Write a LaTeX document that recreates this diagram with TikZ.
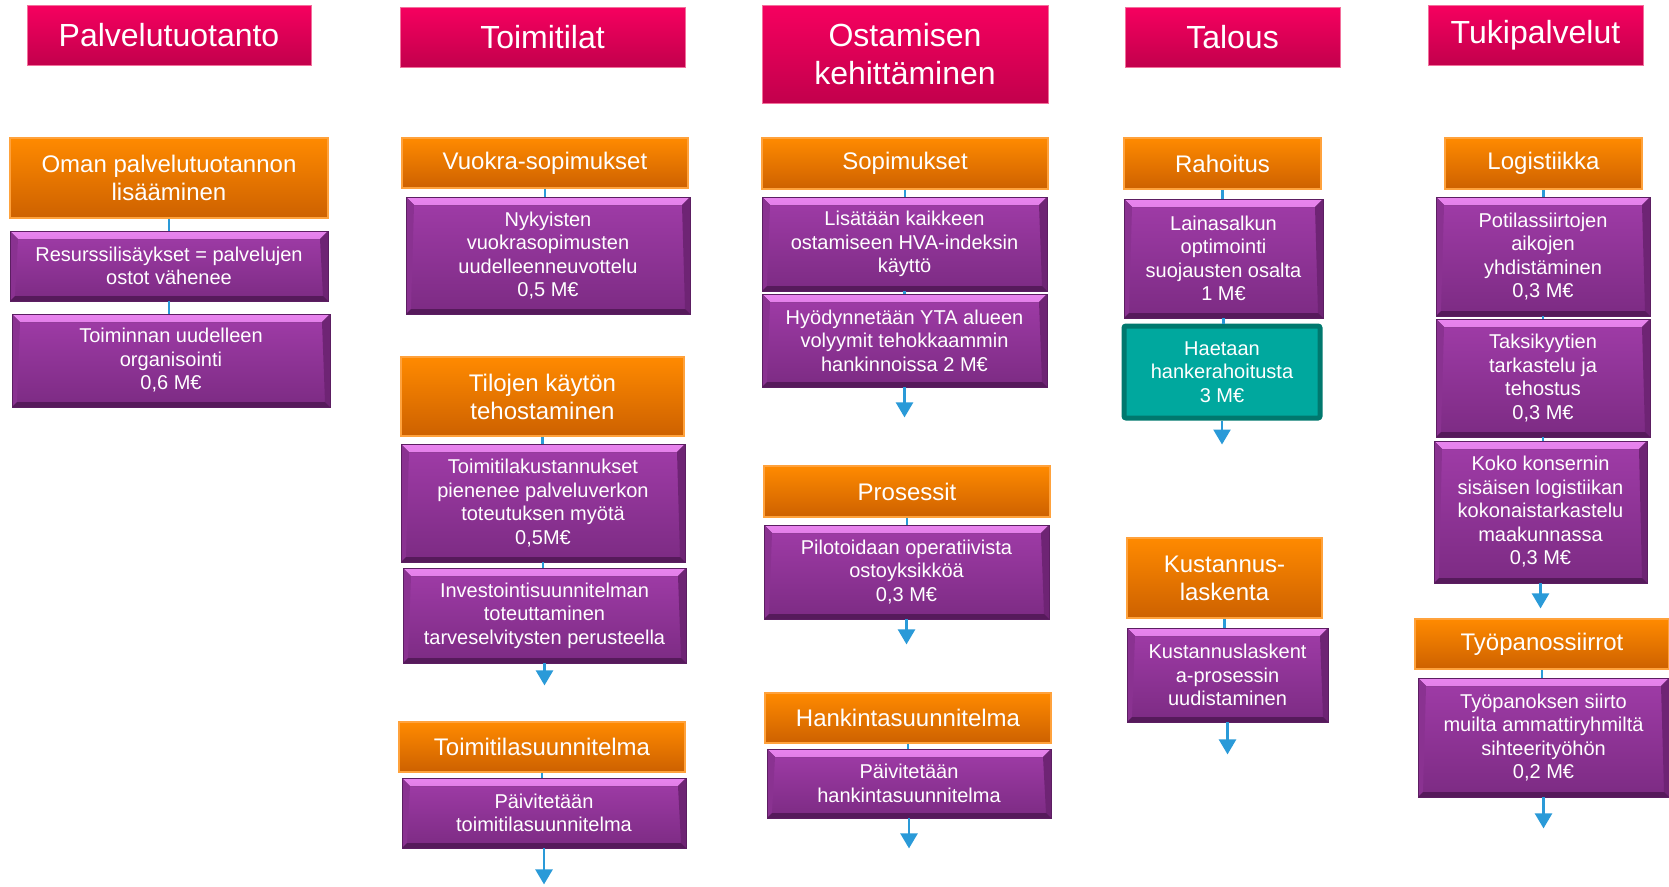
\documentclass[tikz,border=0pt]{standalone}
\usepackage{fontspec}
\setmainfont{Liberation Sans}
\usetikzlibrary{arrows.meta}
\definecolor{tTop}{HTML}{F6005F}
\definecolor{tBot}{HTML}{C2004C}
\definecolor{tEdge}{HTML}{F2709C}
\definecolor{oTop}{HTML}{FF8A00}
\definecolor{oBot}{HTML}{CD6100}
\definecolor{oEdge}{HTML}{FFA23C}
\definecolor{pTop}{HTML}{A03CA8}
\definecolor{pBot}{HTML}{7C2B83}
\definecolor{pEdge}{HTML}{5C1E62}
\definecolor{pHiA}{HTML}{E884EE}
\definecolor{pHiB}{HTML}{B24ABA}
\definecolor{pDark}{HTML}{561A5B}
\definecolor{pSide}{HTML}{6E2474}
\definecolor{pLeft}{HTML}{8A3291}
\definecolor{tealF}{HTML}{00A89E}
\definecolor{tealD}{HTML}{00786E}
\definecolor{conn}{HTML}{2A9AD8}
\tikzset{
  titlebox/.style={top color=tTop, bottom color=tBot, draw=tEdge, line width=1pt,
    text=white, font=\fontsize{32}{38}\selectfont, align=center, inner sep=0pt},
  orangebox/.style={top color=oTop, bottom color=oBot, draw=oEdge, line width=1.5pt,
    text=white, font=\fontsize{24}{28}\selectfont, align=center, inner sep=0pt},
  purplebox/.style={top color=pTop, bottom color=pBot, draw=pEdge, line width=0.8pt,
    text=white, font=\fontsize{20}{23.5}\selectfont, align=center, inner sep=0pt,
    path picture={
      \fill[top color=pHiA, bottom color=pHiB]
        (path picture bounding box.north west) -- (path picture bounding box.north east)
        -- ([xshift=-8pt,yshift=-8pt]path picture bounding box.north east)
        -- ([xshift=8pt,yshift=-8pt]path picture bounding box.north west) -- cycle;
      \fill[pSide]
        (path picture bounding box.north east) -- ([xshift=-8pt,yshift=-8pt]path picture bounding box.north east)
        -- ([xshift=-5pt,yshift=5pt]path picture bounding box.south east) -- (path picture bounding box.south east) -- cycle;
      \fill[pLeft]
        (path picture bounding box.north west) -- ([xshift=8pt,yshift=-8pt]path picture bounding box.north west)
        -- ([xshift=5pt,yshift=5pt]path picture bounding box.south west) -- (path picture bounding box.south west) -- cycle;
      \fill[pDark]
        (path picture bounding box.south west) -- (path picture bounding box.south east)
        -- ([xshift=-5pt,yshift=5pt]path picture bounding box.south east)
        -- ([xshift=5pt,yshift=5pt]path picture bounding box.south west) -- cycle;
    }},
  tealbox/.style={fill=tealF, draw=tealD, line width=5pt, rounded corners=2pt,
    text=white, font=\fontsize{20}{23.5}\selectfont, align=center, inner sep=0pt},
  link/.style={draw=conn, line width=2.5pt},
  arrowlink/.style={draw=conn, line width=2.5pt, -{Triangle[width=17pt,length=15pt]}},
}
\newcommand\bx[7]{%
  \pgfmathsetmacro\myW{#5-#3}\pgfmathsetmacro\myH{#6-#4}%
  \node[#1, minimum width=\myW pt, minimum height=\myH pt] (#2) at ({(#3+#5)/2},{(#4+#6)/2}) {#7};}
\newcommand\lk[2]{\draw[link] (#1.south) -- (#1.south |- #2.north);}
\newcommand\ar[3]{\coordinate (#2) at ([yshift=-#3pt]#1.south); \draw[arrowlink] (#1.south) -- (#2);}
\begin{document}
\begin{tikzpicture}[x=1pt,y=-1pt]
\useasboundingbox[fill=white] (0,0) rectangle (1669,886);
% titles
\bx{titlebox}{t1}{27}{5}{311}{65}{Palvelutuotanto}
\bx{titlebox}{t2}{400}{7}{685}{67}{Toimitilat}
\bx{titlebox}{t3}{762}{5}{1048}{103}{Ostamisen\\kehittäminen}
\bx{titlebox}{t4}{1125}{7}{1340}{67}{Talous}
\bx{titlebox}{t5}{1428}{5}{1643}{65}{Tukipalvelut}
% column 1
\bx{orangebox}{o11}{10}{138}{328}{218}{Oman palvelutuotannon\\lisääminen}
\bx{purplebox}{p11}{10}{231}{328}{301}{Resurssilisäykset = palvelujen\\ostot vähenee}
\bx{purplebox}{p12}{12}{314}{330}{407}{Toiminnan uudelleen\\organisointi\\0,6 M€}
\lk{o11}{p11}\lk{p11}{p12}
% column 2
\bx{orangebox}{o21}{402}{138}{688}{188}{Vuokra-sopimukset}
\bx{purplebox}{p21}{406}{197}{690}{314}{Nykyisten\\vuokrasopimusten\\uudelleenneuvottelu\\0,5 M€}
\bx{orangebox}{o22}{401}{357}{684}{436}{Tilojen käytön\\tehostaminen}
\bx{purplebox}{p22}{401}{444}{685}{562}{Toimitilakustannukset\\pienenee palveluverkon\\toteutuksen myötä\\0,5M€}
\bx{purplebox}{p23}{403}{568}{686}{663}{Investointisuunnitelman\\toteuttaminen\\tarveselvitysten perusteella}
\bx{orangebox}{o23}{399}{722}{685}{772}{Toimitilasuunnitelma}
\bx{purplebox}{p24}{402}{778}{686}{848}{Päivitetään\\toimitilasuunnitelma}
\lk{o21}{p21}\lk{o22}{p22}\lk{p22}{p23}\ar{p23}{a23}{22}
\lk{o23}{p24}\ar{p24}{a24}{36}
% column 3
\bx{orangebox}{o31}{762}{138}{1048}{189}{Sopimukset}
\bx{purplebox}{p31}{762}{197}{1047}{291}{Lisätään kaikkeen\\ostamiseen HVA-indeksin\\käyttö}
\bx{purplebox}{p32}{762}{294}{1047}{387}{Hyödynnetään YTA alueen\\volyymit tehokkaammin\\hankinnoissa 2 M€}
\bx{orangebox}{o32}{764}{466}{1050}{517}{Prosessit}
\bx{purplebox}{p33}{764}{525}{1049}{619}{Pilotoidaan operatiivista\\ostoyksikköä\\0,3 M€}
\bx{orangebox}{o33}{765}{693}{1051}{743}{Hankintasuunnitelma}
\bx{purplebox}{p34}{767}{749}{1051}{818}{Päivitetään\\hankintasuunnitelma}
\lk{o31}{p31}\lk{p31}{p32}\ar{p32}{a32}{30}
\lk{o32}{p33}\ar{p33}{a33}{25}
\lk{o33}{p34}\ar{p34}{a34}{30}
% column 4
\bx{orangebox}{o41}{1124}{138}{1321}{189}{Rahoitus}
\bx{purplebox}{p41}{1124}{199}{1323}{318}{Lainasalkun\\optimointi\\suojausten osalta\\1 M€}
\bx{tealbox}{q41}{1124}{326}{1320}{418}{Haetaan\\hankerahoitusta\\3 M€}
\bx{orangebox}{o42}{1127}{538}{1322}{618}{Kustannus-\\laskenta}
\bx{purplebox}{p42}{1127}{628}{1328}{722}{Kustannuslaskent\\a-prosessin\\uudistaminen}
\lk{o41}{p41}\lk{p41}{q41}\ar{q41}{a41}{24}
\lk{o42}{p42}\ar{p42}{a42}{32}
% column 5
\bx{orangebox}{o51}{1445}{138}{1642}{189}{Logistiikka}
\bx{purplebox}{p51}{1436}{197}{1650}{316}{Potilassiirtojen\\aikojen\\yhdistäminen\\0,3 M€}
\bx{purplebox}{p52}{1436}{319}{1650}{437}{Taksikyytien\\tarkastelu ja\\tehostus\\0,3 M€}
\bx{purplebox}{p53}{1434}{441}{1647}{583}{Koko konsernin\\sisäisen logistiikan\\kokonaistarkastelu\\maakunnassa\\0,3 M€}
\bx{orangebox}{o52}{1415}{619}{1669}{669}{Työpanossiirrot}
\bx{purplebox}{p54}{1418}{678}{1669}{797}{Työpanoksen siirto\\muilta ammattiryhmiltä\\sihteerityöhön\\0,2 M€}
\lk{o51}{p51}\lk{p51}{p52}\lk{p52}{p53}\ar{p53}{a53}{25}
\lk{o52}{p54}\ar{p54}{a54}{31}
\end{tikzpicture}
\end{document}
